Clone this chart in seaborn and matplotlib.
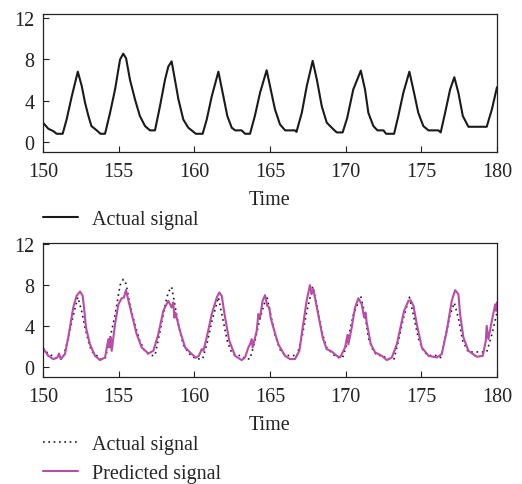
import matplotlib
matplotlib.use("Agg")
import matplotlib.pyplot as plt
import seaborn as sns

# actual signal
actual_time = [150.0, 150.35, 150.68, 150.9, 151.3, 151.56, 151.9, 152.3, 152.56, 152.78,
               153.0, 153.2, 153.55, 153.8, 154.1, 154.43, 154.76, 155.09, 155.3, 155.49,
               155.75, 156.08, 156.4, 156.74, 157.07, 157.4, 157.73, 158.06, 158.28, 158.5,
               158.72, 158.95, 159.27, 159.6, 160.1, 160.55, 160.82, 161.15, 161.59, 161.92,
               162.18, 162.47, 162.7, 163.13, 163.35, 163.68, 164.0, 164.34, 164.78, 165.0,
               165.33, 165.66, 166.0, 166.65, 166.75, 167.1, 167.43, 167.82, 168.1, 168.42,
               168.75, 169.19, 169.41, 169.8, 170.1, 170.5, 171.0, 171.28, 171.5, 171.83,
               172.1, 172.5, 172.67, 173.2, 173.48, 173.81, 174.21, 174.52, 174.8, 175.13,
               175.47, 176.13, 176.28, 176.57, 176.9, 177.18, 177.45, 177.74, 178.11, 179.32,
               179.66, 180.0]
actual_value = [1.85, 1.26, 1.03, 0.77, 0.77, 2.16, 4.4, 6.8, 5.4, 3.78,
                2.5, 1.52, 1.1, 0.77, 0.77, 2.8, 5.06, 7.97, 8.55, 8.1,
                6.0, 4.1, 2.5, 1.52, 1.1, 1.1, 3.45, 6.0, 7.3, 7.8,
                6.0, 4.1, 2.16, 1.36, 0.77, 0.77, 2.16, 4.4, 6.8, 4.4,
                2.5, 1.36, 1.1, 1.1, 0.77, 0.77, 2.5, 4.74, 6.94, 5.4,
                3.13, 1.68, 1.1, 1.1, 0.95, 2.8, 5.4, 7.85, 6.0, 3.45,
                1.85, 1.2, 0.9, 0.9, 2.3, 5.06, 6.9, 5.06, 2.8, 1.52,
                1.1, 1.1, 0.77, 0.77, 2.5, 4.74, 6.8, 4.74, 2.8, 1.52,
                1.1, 1.1, 0.9, 2.8, 5.06, 6.26, 4.74, 2.5, 1.45, 1.45,
                3.13, 5.3]

# predicted signal
pred_time = [150.0, 150.35, 150.68, 150.95, 151.06, 151.17, 151.45, 151.67, 152.0, 152.22,
             152.45, 152.62, 152.71, 152.84, 153.1, 153.44, 153.77, 154.1, 154.32, 154.4,
             154.47, 154.54, 154.76, 154.98, 155.2, 155.35, 155.48, 155.57, 155.86, 156.19,
             156.52, 156.96, 157.29, 157.62, 157.95, 158.28, 158.5, 158.61, 158.68, 158.75,
             159.05, 159.39, 159.83, 160.1, 160.3, 160.49, 160.6, 160.82, 161.15, 161.48,
             161.65, 161.81, 162.03, 162.31, 162.69, 163.13, 163.35, 163.57, 163.68, 163.79,
             163.85, 164.12, 164.23, 164.34, 164.51, 164.67, 164.82, 164.95, 165.04, 165.22,
             165.55, 165.99, 166.32, 166.65, 166.94, 167.16, 167.42, 167.64, 167.75, 167.86,
             167.97, 168.19, 168.48, 168.74, 169.07, 169.41, 169.63, 169.96, 170.12, 170.18,
             170.4, 170.62, 170.84, 171.06, 171.22, 171.31, 171.39, 171.66, 171.95, 172.39,
             172.72, 173.05, 173.38, 173.6, 173.86, 174.15, 174.3, 174.48, 174.7, 175.03,
             175.47, 176.02, 176.35, 176.68, 177.01, 177.23, 177.45, 177.56, 177.78, 178.11,
             178.66, 179.06, 179.26, 179.32, 179.43, 179.66, 179.88, 179.94, 180.0]
pred_value = [1.82, 1.07, 0.75, 0.91, 1.3, 0.75, 1.24, 2.87, 5.8, 6.94,
              7.36, 6.94, 5.8, 3.84, 2.2, 1.07, 0.65, 0.91, 2.7, 1.9,
              2.87, 1.56, 4.17, 6.1, 6.7, 6.77, 7.5, 6.94, 5.15, 3.19,
              1.89, 1.3, 1.56, 3.19, 5.47, 6.45, 5.8, 6.29, 4.8, 5.3,
              3.5, 1.89, 1.24, 0.88, 1.07, 1.73, 1.56, 2.87, 5.15, 6.77,
              7.26, 6.94, 4.82, 2.54, 1.07, 0.65, 0.91, 1.89, 2.2, 2.7,
              1.89, 3.5, 5.15, 4.82, 6.45, 7.0, 5.96, 5.8, 4.82, 3.84,
              2.2, 1.07, 0.75, 0.75, 1.56, 3.84, 6.45, 7.98, 7.1, 7.6,
              6.77, 5.15, 2.87, 1.73, 1.5, 1.07, 0.91, 1.89, 3.13, 2.2,
              3.84, 5.8, 6.7, 6.1, 4.82, 5.3, 4.33, 2.2, 1.4, 1.07,
              0.65, 0.91, 2.2, 3.68, 5.47, 6.45, 6.5, 5.96, 4.17, 1.89,
              1.07, 0.91, 1.24, 3.52, 6.45, 7.49, 7.1, 5.15, 2.87, 1.56,
              0.98, 1.07, 2.54, 4.0, 2.7, 4.5, 6.1, 5.47, 6.3]

x_ticks = [150, 155, 160, 165, 170, 175, 180]
y_ticks = [0, 4, 8, 12]

sns.set_theme(style="ticks")
plt.rcParams["font.family"] = ["Liberation Serif", "DejaVu Serif"]
FS = 14.5

fig = plt.figure(figsize=(5.22, 4.85), dpi=100)
W, H = 522, 485
ax1 = fig.add_axes([43 / W, 1 - 153 / H, 454 / W, 138 / H])
ax2 = fig.add_axes([43 / W, 1 - 378 / H, 454 / W, 134 / H])

magenta = "#BB4BA8"

sns.lineplot(x=actual_time, y=actual_value, ax=ax1, color="#1a1a1a", lw=1.5,
             label="Actual signal", legend=False)
sns.lineplot(x=actual_time, y=actual_value, ax=ax2, color="#1a1a1a", lw=1.2,
             ls=(0, (1, 2.2)), label="Actual signal", legend=False)
sns.lineplot(x=pred_time, y=pred_value, ax=ax2, color=magenta, lw=1.5,
             label="Predicted signal", legend=False)

for ax, ytop in [(ax1, 12.4), (ax2, 12.1)]:
    ax.set_xlim(150, 180)
    ax.set_ylim(-1, ytop)
    ax.set_xticks(x_ticks)
    ax.set_yticks(y_ticks)
    ax.tick_params(direction="in", length=4, width=0.8, labelsize=FS, pad=7,
                   colors="#222222")
    ax.tick_params(axis="y", pad=6)
    ax.set_xlabel("Time", fontsize=FS, labelpad=7, color="#222222")
    ax.set_ylabel("")
    for sp in ax.spines.values():
        sp.set_visible(True)
        sp.set_linewidth(0.9)
        sp.set_color("#222222")

h1, l1 = ax1.get_legend_handles_labels()
fig.legend(h1, l1, loc="upper left", bbox_to_anchor=(43 / W, 1 - 211 / H),
           frameon=False, fontsize=FS, handlelength=1.75, handletextpad=0.7,
           borderpad=0, borderaxespad=0)

h2, l2 = ax2.get_legend_handles_labels()
fig.legend(h2, l2, loc="upper left", bbox_to_anchor=(43 / W, 1 - 436 / H),
           frameon=False, fontsize=FS, handlelength=1.75, handletextpad=0.7,
           borderpad=0, borderaxespad=0, labelspacing=0.5)

fig.savefig("out.png", dpi=100)
